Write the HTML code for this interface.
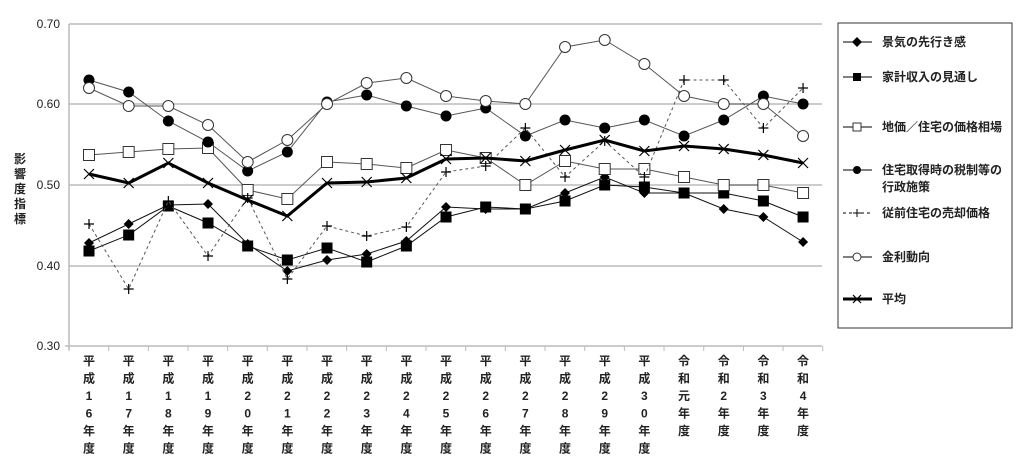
<!DOCTYPE html>
<html><head><meta charset="utf-8"><style>
body{margin:0;background:#fff}
text{font-family:"Liberation Sans","Noto Sans CJK JP",sans-serif;fill:#222}
.b text{font-weight:bold}
</style></head><body>
<svg width="1024" height="462" viewBox="0 0 1024 462" xmlns="http://www.w3.org/2000/svg">
<defs>
<path id="dia" d="M0,-5L5,0L0,5L-5,0Z" fill="#000"/>
<rect id="sqf" x="-5.5" y="-5.5" width="11" height="11" fill="#000"/>
<rect id="sqo" x="-5.5" y="-5.5" width="11" height="11" fill="#fff" stroke="#333" stroke-width="1"/>
<circle id="cf" r="5.5" fill="#000"/>
<circle id="co" r="5.5" fill="#fff" stroke="#333" stroke-width="1"/>
<path id="pl" d="M-5,0H5M0,-5V5" stroke="#000" stroke-width="1.2"/>
<path id="xx" d="M-5,-5L5,5M5,-5L-5,5" stroke="#000" stroke-width="1.2"/>
</defs>
<g stroke="#bbb" stroke-width="1.5">
<line x1="69" y1="24" x2="822" y2="24"/>
<line x1="69" y1="104" x2="822" y2="104"/>
<line x1="69" y1="185" x2="822" y2="185"/>
<line x1="69" y1="266" x2="822" y2="266"/>
<line x1="65" y1="346" x2="822" y2="346"/>
<line x1="69" y1="24" x2="69" y2="350"/>
</g>
<g stroke="#bbb" stroke-width="1" id="ticks"></g>
<g font-size="12" text-anchor="end">
<text x="60" y="28">0.70</text><text x="60" y="108">0.60</text><text x="60" y="189">0.50</text><text x="60" y="270">0.40</text><text x="60" y="350">0.30</text>
</g>
<g class="b" font-size="12" text-anchor="middle">
<text x="20" y="163">影</text><text x="20" y="178">響</text><text x="20" y="193">度</text><text x="20" y="208">指</text><text x="20" y="223">標</text>
</g>
<g id="xl" class="b" font-size="12" text-anchor="middle"></g>
<g id="series"></g>
<rect x="838" y="23" width="174" height="305" fill="#fff" stroke="#333" stroke-width="1"/>
<g font-size="12" class="b">
<line x1="843" y1="42" x2="872" y2="42" stroke="#000"/><use href="#dia" x="857" y="42"/><text x="882" y="46">景気の先行き感</text>
<line x1="843" y1="77" x2="872" y2="77" stroke="#000"/><rect x="853" y="73" width="8" height="8"/><text x="882" y="81">家計収入の見通し</text>
<line x1="843" y1="127" x2="872" y2="127" stroke="#000"/><rect x="853" y="123" width="8" height="8" fill="#fff" stroke="#333"/><text x="882" y="131">地価／住宅の価格相場</text>
<line x1="843" y1="170" x2="872" y2="170" stroke="#000"/><circle cx="857" cy="170" r="4"/><text x="882" y="174">住宅取得時の税制等の</text><text x="882" y="191">行政施策</text>
<line x1="843" y1="213" x2="872" y2="213" stroke="#000" stroke-dasharray="3,3"/><path d="M853,213H861M857,209V217" stroke="#000"/><text x="882" y="217">従前住宅の売却価格</text>
<line x1="843" y1="257" x2="872" y2="257" stroke="#000"/><circle cx="857" cy="257" r="4" fill="#fff" stroke="#333"/><text x="882" y="261">金利動向</text>
<line x1="843" y1="299" x2="872" y2="299" stroke="#000" stroke-width="3"/><path d="M853,295L861,303M861,295L853,303" stroke="#000" stroke-width="1.2" fill="none"/><text x="882" y="303">平均</text>
</g>
</svg>
<script>
const NS="http://www.w3.org/2000/svg";
const X=i=>89+i*39.67;
const ticks=document.getElementById('ticks');
for(let i=0;i<=19;i++){const l=document.createElementNS(NS,'line');const x=69+i*39.67;l.setAttribute('x1',x);l.setAttribute('x2',x);l.setAttribute('y1',346);l.setAttribute('y2',351);ticks.appendChild(l);}
const labs=[];
for(let y=16;y<=30;y++){const s=String(y);labs.push(['平','成',s[0],s[1],'年','度']);}
labs.push(['令','和','元','年','度']);labs.push(['令','和','2','年','度']);labs.push(['令','和','3','年','度']);labs.push(['令','和','4','年','度']);
const xl=document.getElementById('xl');
labs.forEach((a,i)=>a.forEach((c,j)=>{const t=document.createElementNS(NS,'text');t.setAttribute('x',X(i));t.setAttribute('y',365+j*17.5);t.textContent=c;xl.appendChild(t);}));
const S=[
['#dia',[243,224,205,204,244,271,260,254,241,207,209,209,193,177,193,193,209,217,242],'#111',1,''],
['#sqf',[251,235,206,223,246,260,248,262,246,217,207,209,201,185,187,193,193,201,217],'#111',1,''],
['#sqo',[155,152,149,148,190,199,162,164,168,150,158,185,161,169,169,177,185,185,193],'#555',1,''],
['#cf',[80,92,121,142,171,152,102,95,106,116,108,136,120,128,120,136,120,96,104],'#555',1,''],
['#pl',[224,289,201,256,198,279,226,236,227,172,166,128,177,141,177,80,80,128,88],'#555',1,'3,3'],
['#co',[88,106,106,125,162,140,104,83,78,96,101,104,47,40,64,96,104,104,136],'#555',1,''],
['#xx',[174,183,163,183,200,216,183,182,178,159,158,161,150,140,151,146,149,155,163],'#000',3,'']
];
const g=document.getElementById('series');
S.forEach(([m,ys,c,w,d])=>{const p=document.createElementNS(NS,'polyline');p.setAttribute('points',ys.map((y,i)=>X(i)+','+y).join(' '));p.setAttribute('fill','none');p.setAttribute('stroke',c);p.setAttribute('stroke-width',w);if(d)p.setAttribute('stroke-dasharray',d);g.appendChild(p);
ys.forEach((y,i)=>{const u=document.createElementNS(NS,'use');u.setAttribute('href',m);u.setAttribute('x',X(i));u.setAttribute('y',y);g.appendChild(u);});});
</script>
</body></html>
